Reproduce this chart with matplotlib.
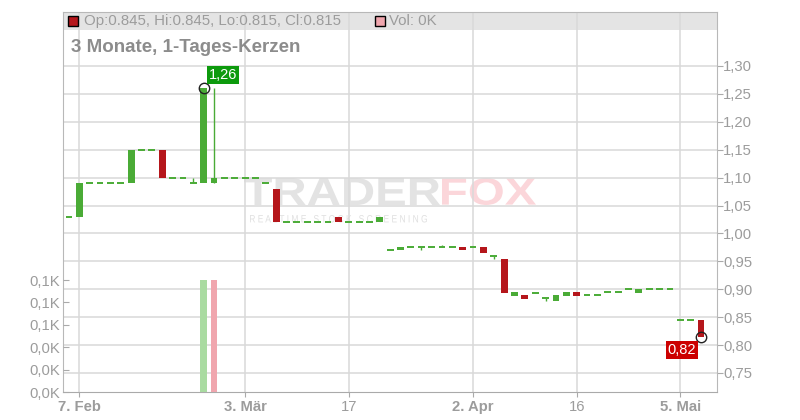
import matplotlib
matplotlib.use("Agg")
import matplotlib.pyplot as plt
from matplotlib.patches import Rectangle, PathPatch
from matplotlib.textpath import TextPath
from matplotlib.font_manager import FontProperties
from matplotlib.transforms import Affine2D

plt.rcParams['font.family'] = ['Liberation Sans', 'DejaVu Sans']

# daily candles (trading-day index 0..61)
opens = [1.03, 1.03, 1.09, 1.09, 1.09, 1.09, 1.09, 1.15, 1.15, 1.15,
         1.10, 1.10, 1.09, 1.09, 1.09, 1.10, 1.10, 1.10, 1.10, 1.09,
         1.08, 1.02, 1.02, 1.02, 1.02, 1.02, 1.03, 1.02, 1.02, 1.02,
         1.02, 0.97, 0.97, 0.975, 0.975, 0.975, 0.975, 0.975, 0.975, 0.975,
         0.975, 0.96, 0.955, 0.888, 0.89, 0.894, 0.884, 0.879, 0.888, 0.895,
         0.889, 0.889, 0.895, 0.895, 0.90, 0.894, 0.90, 0.90, 0.90, 0.845,
         0.845, 0.845]
closes = [1.03, 1.09, 1.09, 1.09, 1.09, 1.09, 1.15, 1.15, 1.15, 1.10,
          1.10, 1.10, 1.09, 1.26, 1.10, 1.10, 1.10, 1.10, 1.10, 1.09,
          1.02, 1.02, 1.02, 1.02, 1.02, 1.02, 1.02, 1.02, 1.02, 1.02,
          1.03, 0.97, 0.975, 0.975, 0.975, 0.975, 0.975, 0.975, 0.97, 0.975,
          0.965, 0.96, 0.893, 0.895, 0.883, 0.894, 0.884, 0.89, 0.895, 0.888,
          0.889, 0.889, 0.895, 0.895, 0.90, 0.90, 0.90, 0.90, 0.90, 0.845,
          0.845, 0.815]
highs = list(map(max, opens, closes))
lows = list(map(min, opens, closes))
highs[12] = 1.10
highs[14] = 1.26
lows[34] = 0.97
highs[36] = 0.98
lows[41] = 0.955
lows[46] = 0.879
volumes = [0] * 62
volumes[13] = 100
volumes[14] = 100

tick_pos = [1, 17, 27, 39, 49, 59]
tick_labels = ['7. Feb', '3. Mär', '17', '2. Apr', '16', '5. Mai']
tick_bold = [True, True, False, True, False, True]
price_ticks = [0.75, 0.80, 0.85, 0.90, 0.95, 1.00, 1.05, 1.10, 1.15, 1.20, 1.25, 1.30]
vol_ticks = [0, 20, 40, 60, 80, 100]
vol_labels = ['0,0K', '0,0K', '0,0K', '0,1K', '0,1K', '0,1K']

GREEN = '#4aab36'
RED = '#b5161b'
GRID = '#d9d9d9'
TXT = '#9c9c9c'
W = 800
H = 420

fig = plt.figure(figsize=(8, 4.2), dpi=100)
ax = fig.add_axes([63.3 / W, 1 - 392 / H, (716.7 - 63.3) / W, (392 - 11.7) / H])
ax_vol = ax.twinx()

ax.set_xlim(-0.544, 62.51)
ax.set_ylim(0.7158, 1.3973)
ax_vol.set_ylim(0, 339.6)

# header band
ax.add_patch(Rectangle((0, 0.9519), 1, 0.0481, transform=ax.transAxes,
                       facecolor='#e4e4e4', edgecolor='none', zorder=0.1))

ax.set_axisbelow(True)
ax.grid(True, color=GRID, lw=1.1)

# candles
bw = 0.66
for i in range(len(opens)):
    o, c = opens[i], closes[i]
    col = GREEN if c >= o else RED
    if highs[i] > max(o, c) or lows[i] < min(o, c):
        ax.vlines(i, lows[i], highs[i], color=GREEN, lw=1, zorder=3)
    if o == c:
        ax.hlines(o, i - bw / 2, i + bw / 2, color=GREEN, lw=1.4, zorder=3)
    else:
        ax.bar(i, abs(c - o), bottom=min(o, c), width=bw, color=col, zorder=3)

# volume, coloured by close against previous close
vol_cols = ['#a9dba1' if i == 0 or closes[i] >= closes[i - 1] else '#f0a6ae'
            for i in range(len(volumes))]
ax_vol.bar(range(len(volumes)), volumes, width=bw, color=vol_cols, zorder=2)

# high / last markers
ax.plot([13], [closes[13]], 'o', mfc='none', mec='#222222', ms=7.5, mew=1, zorder=5)
ax.plot([61], [closes[61]], 'o', mfc='none', mec='#222222', ms=7.5, mew=1, zorder=5)
ax.annotate('1,26', (13, closes[13]), xytext=(5.5, 6.5), textcoords='offset pixels',
            ha='left', va='bottom', color='white', fontsize=10.5, zorder=6,
            bbox=dict(boxstyle='square,pad=0.12', fc='#0d9a0d', ec='none'))
ax.annotate('0,82', (61, closes[61]), xytext=(-5, -6.5), textcoords='offset pixels',
            ha='right', va='top', color='white', fontsize=10.5, zorder=6,
            bbox=dict(boxstyle='square,pad=0.12', fc='#cc0000', ec='none'))

# axes styling
for s in ax.spines.values():
    s.set_color('#b8b8b8')
ax.spines['bottom'].set_color('#aaaaaa')
for s in ax_vol.spines.values():
    s.set_visible(False)

ax.yaxis.tick_right()
ax.set_yticks(price_ticks)
ax.set_yticklabels([f'{p:.2f}'.replace('.', ',') for p in price_ticks])
ax.tick_params(axis='y', colors='#aaaaaa', labelcolor=TXT, labelsize=10.7, length=4, pad=0.5)

ax.set_xticks(tick_pos)
ax.set_xticklabels(tick_labels)
ax.tick_params(axis='x', colors='#aaaaaa', labelcolor=TXT, labelsize=10.7, length=3.5, pad=2)
for lab, b in zip(ax.get_xticklabels(), tick_bold):
    lab.set_fontweight('bold' if b else 'normal')

ax_vol.yaxis.tick_left()
ax_vol.set_yticks(vol_ticks)
ax_vol.set_yticklabels(vol_labels)
ax_vol.tick_params(axis='y', direction='in', colors='#aaaaaa', labelcolor=TXT,
                   labelsize=10.7, length=4, pad=2.5)

# watermark
def shape_text(s, x0, y0, x1, y1, color, weight='bold'):
    tp = TextPath((0, 0), s, size=1, prop=FontProperties(family='Liberation Sans', weight=weight))
    bb = tp.get_extents()
    tr = (Affine2D().translate(-bb.x0, -bb.y0)
          .scale((x1 - x0) / bb.width / W, (y1 - y0) / bb.height / H)
          .translate(x0 / W, 1 - y1 / H) + fig.transFigure)
    ax.add_artist(PathPatch(tp, transform=tr, facecolor=color, edgecolor='none',
                            zorder=0.3, clip_on=False))

shape_text('TRADER', 244, 178, 440, 205, '#e3e3e3')
shape_text('FOX', 442, 178, 536, 205, '#fbd6da')
shape_text('R E A L T I M E   S T O C K   S C R E E N I N G', 250, 215, 427, 222.5, '#e0e0e0', 'normal')

# header texts
fig.patches.append(Rectangle((68.3 / W, 1 - 26 / H), 10 / W, 10 / H, transform=fig.transFigure,
                             facecolor='#b5161b', edgecolor='black', lw=1, figure=fig))
fig.text(84.5 / W, 1 - 21 / H, 'Op:0.845, Hi:0.845, Lo:0.815, Cl:0.815', color=TXT,
         fontsize=10.8, ha='left', va='center')
fig.patches.append(Rectangle((375 / W, 1 - 26 / H), 9.5 / W, 10 / H, transform=fig.transFigure,
                             facecolor='#f0a6ae', edgecolor='black', lw=1, figure=fig))
fig.text(389 / W, 1 - 21 / H, 'Vol: 0K', color=TXT, fontsize=10.8, ha='left', va='center')
fig.text(71 / W, 1 - 47.5 / H, '3 Monate, 1-Tages-Kerzen', color='#8c8c8c',
         fontsize=13.5, fontweight='bold', ha='left', va='center')

fig.savefig('out.png', dpi=100)
